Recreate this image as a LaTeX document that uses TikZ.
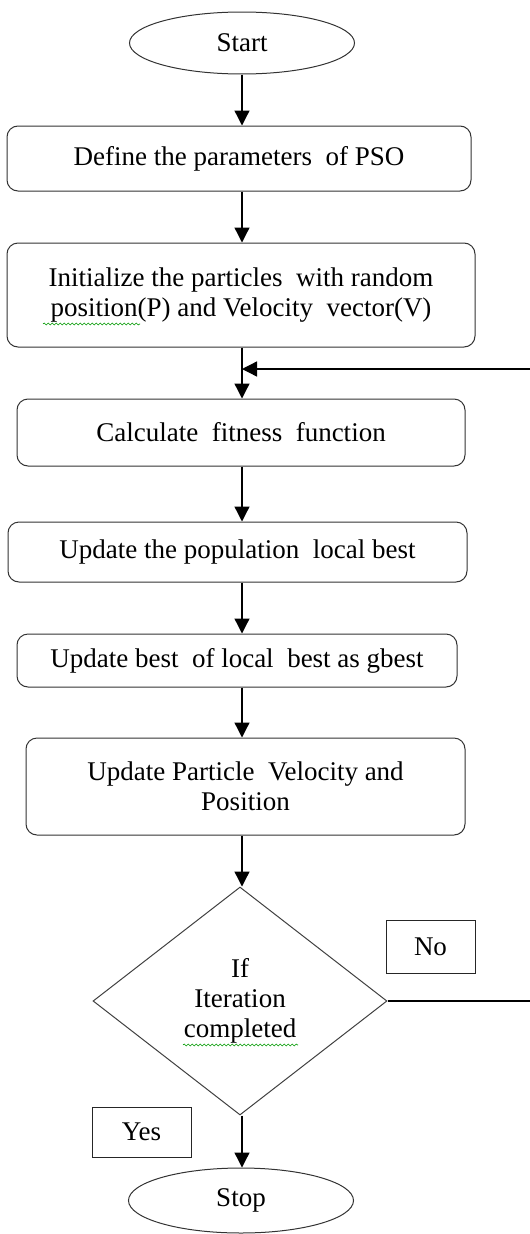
\documentclass[tikz,border=0pt]{standalone}
\usepackage{fontspec}
\setmainfont{Liberation Serif}
\usetikzlibrary{shapes.geometric,arrows.meta,decorations.pathmorphing}
\begin{document}
\begin{tikzpicture}[x=1pt,y=-1pt,
  every node/.style={font=\fontsize{27}{30}\selectfont, inner sep=0pt, align=center},
  terminal/.style={draw=black!80, line width=1pt, ellipse, minimum width=225pt, minimum height=62pt},
  procbox/.style={draw=black!80, line width=1pt, rectangle, rounded corners=11pt},
  decision/.style={draw=black!75, line width=1pt, diamond, minimum width=294pt, minimum height=228pt, aspect=1.29},
  labelbox/.style={draw=black!85, line width=1pt, rectangle},
  arr/.style={draw=black, line width=1.3pt, -{Triangle[length=15pt,width=15pt]}},
  plain/.style={draw=black, line width=1.3pt},
  squiggle/.style={draw=green!60!black, line width=0.6pt, decorate, decoration={snake, segment length=4pt, amplitude=1pt}}]
\useasboundingbox (0,0) rectangle (530,1234);

\node[terminal] (start) at (242,43) {Start};
\node[procbox, minimum width=464pt, minimum height=65pt] (define) at (239,158.5) {Define the parameters \ of PSO};
\node[procbox, minimum width=468pt, minimum height=104pt] (init) at (241,295) {Initialize the particles \ with random\\position(P) and Velocity \ vector(V)};
\node[procbox, minimum width=448pt, minimum height=67pt] (calc) at (241,432.5) {Calculate \ fitness \ function};
\node[procbox, minimum width=459pt, minimum height=60pt] (upop) at (237.5,552) {Update the population \ local best};
\node[procbox, minimum width=440pt, minimum height=53pt] (ubest) at (237,660.5) {Update best \ of local \ best as gbest};
\node[procbox, minimum width=439pt, minimum height=97pt] (upart) at (245.5,786.5) {Update Particle \ Velocity and\\Position};
\node[decision] (dia) at (240,1001) {If\\Iteration\\completed};
\node[labelbox, minimum width=89pt, minimum height=53pt] (no) at (430.5,946.5) {No};
\node[labelbox, minimum width=99pt, minimum height=50pt] (yes) at (141.5,1132) {Yes};
\node[terminal, minimum height=65pt] (stop) at (241,1200.5) {Stop};

\coordinate (noend) at (530,1001);
\coordinate (backin) at (530,369);
\coordinate (join) at (start |- backin);

\draw[arr] (start.south) -- (start.south |- define.north);
\draw[arr] (start |- define.south) -- (start |- init.north);
\draw[arr] (start |- init.south) -- (start |- calc.north);
\draw[arr] (backin) -- (join);
\draw[arr] (start |- calc.south) -- (start |- upop.north);
\draw[arr] (start |- upop.south) -- (start |- ubest.north);
\draw[arr] (start |- ubest.south) -- (start |- upart.north);
\draw[arr] (start |- upart.south) -- (start |- dia.north);
\draw[arr] (start |- dia.south) -- (start |- stop.north);
\draw[plain] (dia.east) -- (noend);

\draw[squiggle] (43,324) -- (140,324);
\draw[squiggle] (183,1045) -- (298,1045);
\end{tikzpicture}
\end{document}
